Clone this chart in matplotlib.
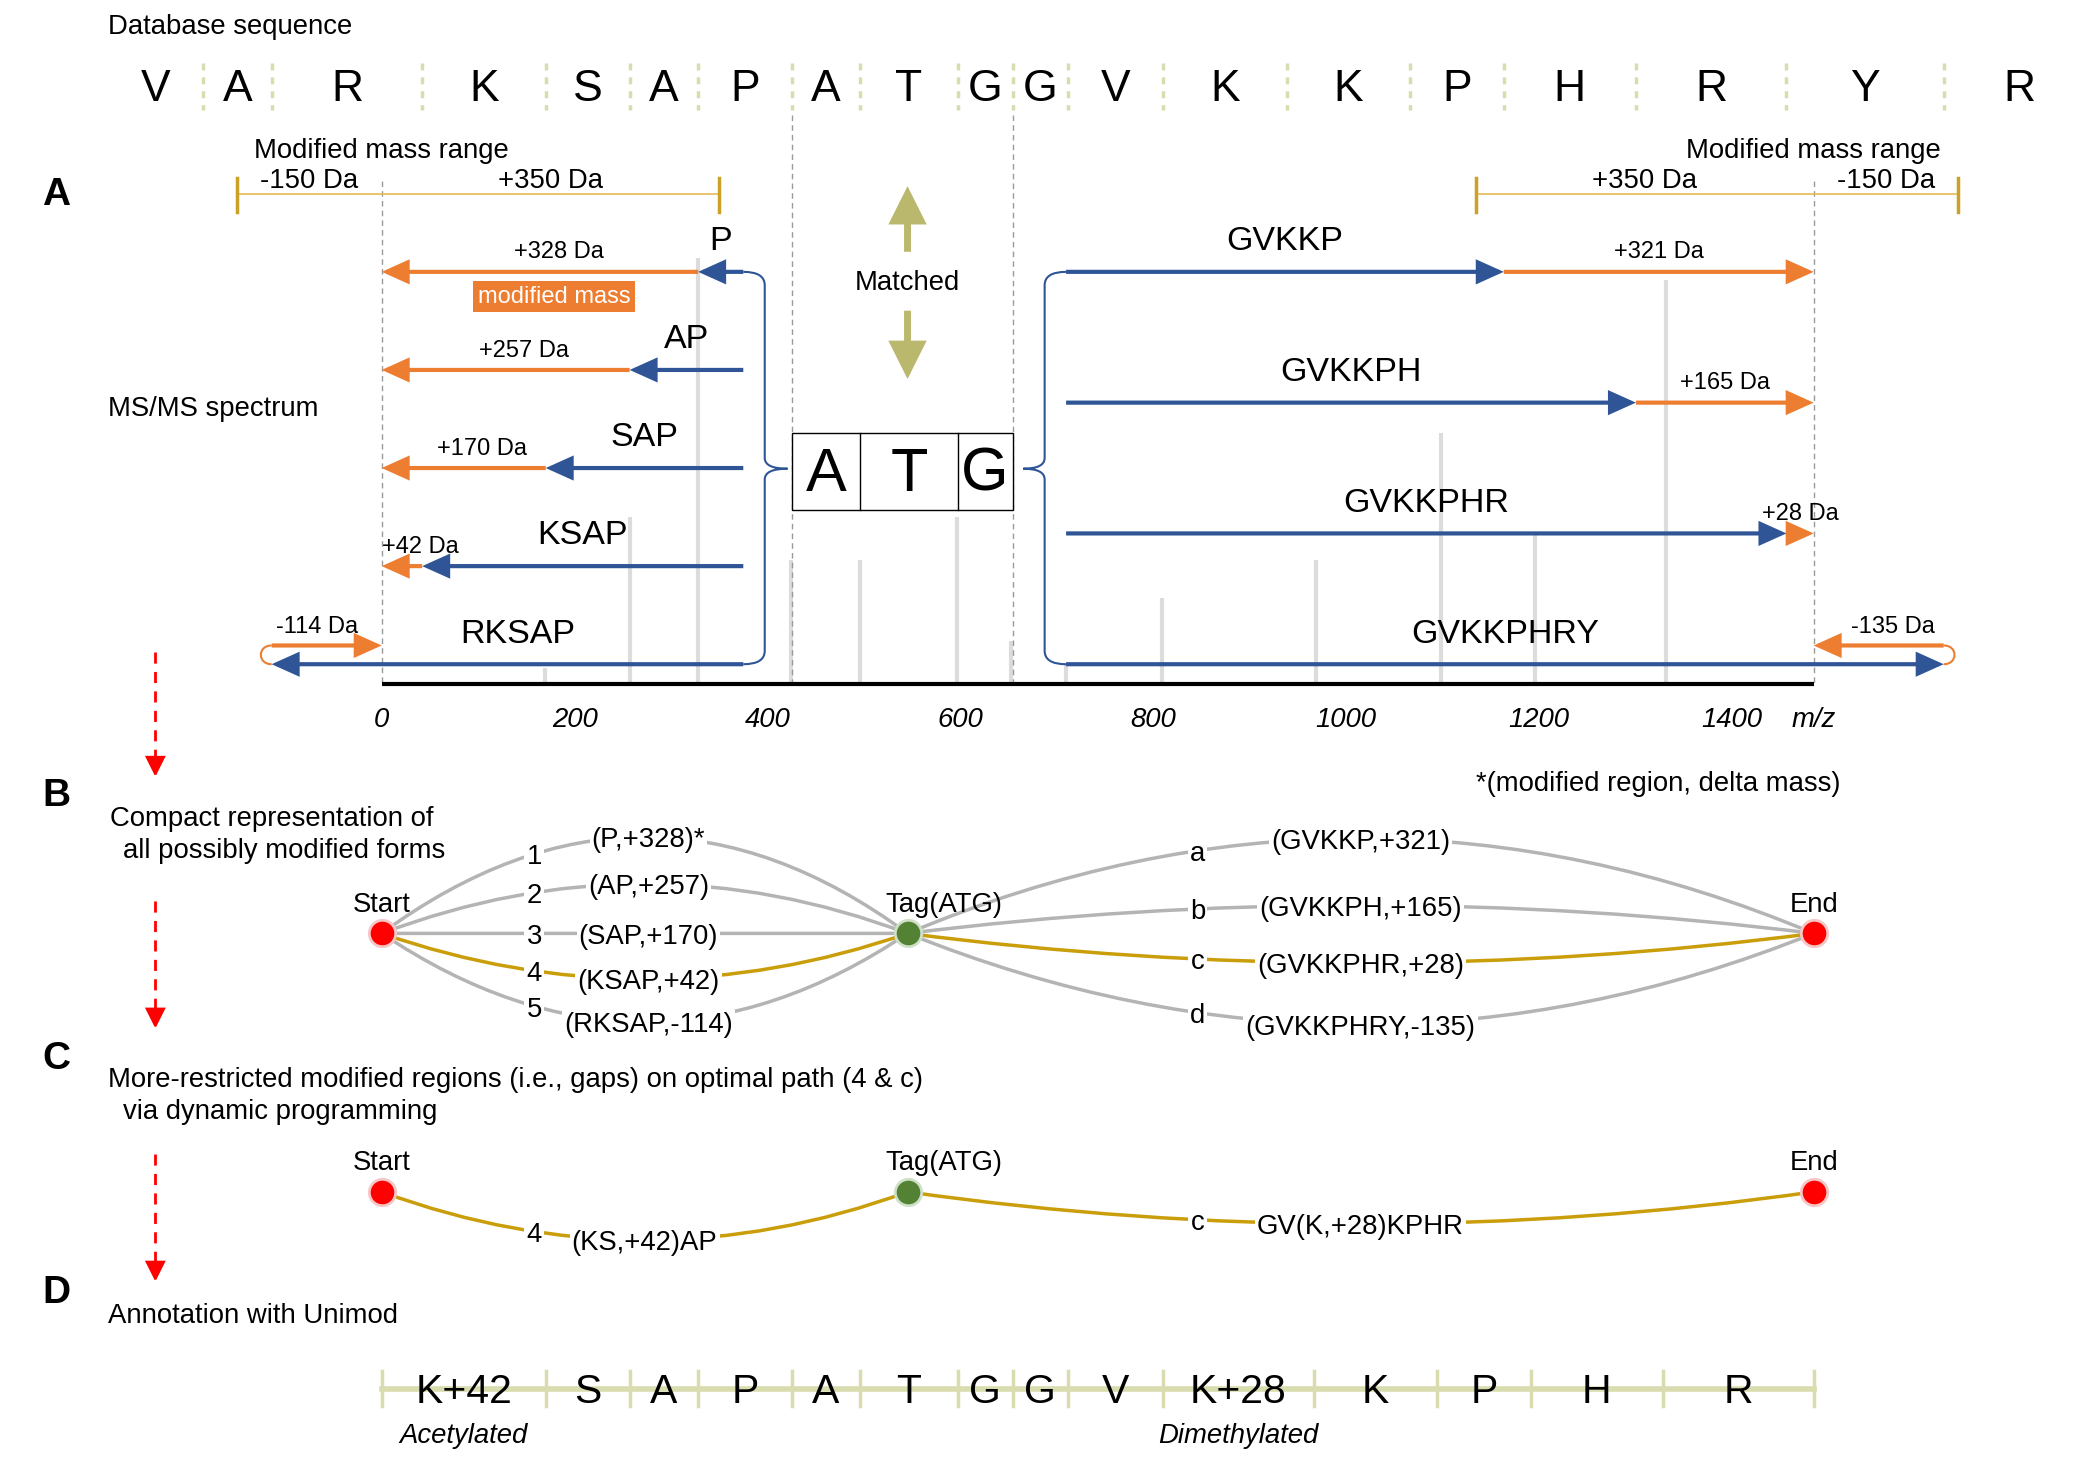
import numpy as np
import matplotlib
matplotlib.use("Agg")
import matplotlib.pyplot as plt
from matplotlib.path import Path
from matplotlib.patches import PathPatch, Rectangle

plt.rcParams['font.family'] = ['Liberation Sans', 'DejaVu Sans']

# ---------------- data ----------------
residue_mass = {'G': 57.02, 'A': 71.04, 'S': 87.03, 'P': 97.05, 'V': 99.07,
                'T': 101.05, 'K': 128.09, 'H': 137.06, 'R': 156.10, 'Y': 163.06}
db_sequence = list("VARKSAPATGGVKKPHRYR")
tag_seq = "ATG"
tag_index = 7            # position of the tag in the database sequence
tag_start_mz = 425.2     # m/z where the tag starts in the spectrum
precursor_mz = 1485.0
mz_ticks = [0, 200, 400, 600, 800, 1000, 1200, 1400]
mass_range = (-150, 350)

left_fragments = ["P", "AP", "SAP", "KSAP", "RKSAP"]
left_deltas = ["+328 Da", "+257 Da", "+170 Da", "+42 Da", "-114 Da"]
right_fragments = ["GVKKP", "GVKKPH", "GVKKPHR", "GVKKPHRY"]
right_deltas = ["+321 Da", "+165 Da", "+28 Da", "-135 Da"]

peak_mz = [169, 257, 328, 424, 496, 597, 653, 710, 809, 969, 1099, 1196, 1332]
peak_int = [3.5, 39, 100, 29, 29, 39, 10, 4.5, 20, 29, 59, 35, 95]

b_ids_left = ["1", "2", "3", "4", "5"]
b_labels_left = ["(P,+328)*", "(AP,+257)", "(SAP,+170)", "(KSAP,+42)", "(RKSAP,-114)"]
b_ids_right = ["a", "b", "c", "d"]
b_labels_right = ["(GVKKP,+321)", "(GVKKPH,+165)", "(GVKKPHR,+28)", "(GVKKPHRY,-135)"]
optimal_left = 3
optimal_right = 2
c_label_left = "(KS,+42)AP"
c_label_right = "GV(K,+28)KPHR"

annot_residues = ["K+42", "S", "A", "P", "A", "T", "G", "G", "V", "K+28", "K", "P", "H", "R"]
annot_masses = [170.10, 87.03, 71.04, 97.05, 71.04, 101.05, 57.02, 57.02, 99.07,
                156.12, 128.09, 97.05, 137.06, 156.10]
annot_names = {0: "Acetylated", 9: "Dimethylated"}

# ---------------- styles ----------------
BLUE = '#2F5597'
ORANGE = '#ED7D31'
GOLD = '#C99E0A'
GREY_EDGE = '#B4B4B4'
PEAK = '#DCDCDC'
OLIVE = '#BAB86C'
PALE = '#D9DCAE'
RANGE = '#C9A227'
FS = 19.8

K = 0.72      # px per Da on the layout (shrunk 1568 px wide frame)
X0 = 285.0


def X(px):
    return (px - X0) / K


def DX(px):
    return px / K


fig = plt.figure(figsize=(21, 14.57), dpi=100)

# spectrum axes (peaks behind everything)
base_y = 510.0
ax_s = fig.add_axes([0, 1 - base_y / 1088, 1, base_y / 1088])
ax_s.set_xlim(X(0), X(1568))
ax_s.set_ylim(0, 100 * base_y / 317)
ax_s.axis('off')
ax_s.vlines(peak_mz, 0, peak_int, color=PEAK, lw=3)

ax = fig.add_axes([0, 0, 1, 1])
ax.set_xlim(X(0), X(1568))
ax.set_ylim(1088, 0)
ax.axis('off')
ax.patch.set_alpha(0)


def txt(x, y, s, size=FS, dy=None, **kw):
    if dy is None:
        dy = 2.5 if size < 30 else 3.0
    ax.text(x, y + dy, s, fontsize=size, ha=kw.pop('ha', 'center'), va=kw.pop('va', 'center'), **kw)


def arrow(x0, y0, x1, y1, color, lw=3, ms=15, hl=1.0, hw=0.45, z=3):
    ax.annotate("", xy=(x1, y1), xytext=(x0, y0),
                arrowprops=dict(arrowstyle=f"-|>,head_length={hl},head_width={hw}",
                                color=color, lw=lw, shrinkA=0, shrinkB=0,
                                mutation_scale=ms, joinstyle='miter', capstyle='butt'),
                zorder=z)


# ---------------- database sequence ----------------
txt(X(81), 18, "Database sequence", ha='left')
masses = np.array([residue_mass[r] for r in db_sequence])
cum = np.concatenate([[0], np.cumsum(masses)])
cum = cum - cum[tag_index] + tag_start_mz
for i, r in enumerate(db_sequence):
    txt((cum[i] + cum[i + 1]) / 2, 64, r, size=32)
for b in cum[1:-1]:
    ax.plot([b, b], [47, 82], color=PALE, lw=2.5, ls=(0, (2, 2)))
tag_end_mz = cum[tag_index + len(tag_seq)]
tag_mid = (tag_start_mz + tag_end_mz) / 2

# ---------------- panel labels & side text ----------------
for lab, yy in zip("ABCD", [143, 592, 788, 963]):
    txt(X(42), yy, lab, size=28, fontweight='bold')
txt(X(81), 303, "MS/MS spectrum", ha='left')
txt(X(82), 609, "Compact representation of", ha='left')
txt(X(92), 633, "all possibly modified forms", ha='left')
txt(X(81), 804, "More-restricted modified regions (i.e., gaps) on optimal path (4 & c)", ha='left')
txt(X(92), 828, "via dynamic programming", ha='left')
txt(X(81), 980, "Annotation with Unimod", ha='left')
txt(X(1374), 583, "*(modified region, delta mass)", ha='right')

# red dashed flow arrows
for y0, y1 in [(487, 580), (673, 768), (862, 957)]:
    ax.plot([X(116), X(116)], [y0, y1 - 12], color='#FF0000', lw=2, ls=(0, (4, 3)))
    arrow(X(116), y1 - 13, X(116), y1, '#FF0000', lw=1.5, ms=14, hl=0.9, hw=0.45)

# ---------------- panel A ----------------
dash = dict(color='#9A9A9A', lw=1, ls=(0, (4, 3)))
ax.plot([0, 0], [135, base_y], **dash)
ax.plot([precursor_mz, precursor_mz], [135, base_y], **dash)
ax.plot([tag_start_mz, tag_start_mz], [86, base_y], **dash)
ax.plot([tag_end_mz, tag_end_mz], [86, base_y], **dash)

# modified mass range bars
for lo, hi, cx, labs in [(mass_range[0], mass_range[1], 0, ("-150 Da", "+350 Da")),
                         (precursor_mz - mass_range[1], precursor_mz - mass_range[0], precursor_mz,
                          ("+350 Da", "-150 Da"))]:
    ax.plot([lo, hi], [145, 145], color='#E6BA55', lw=1.2)
    ax.plot([lo, lo], [133, 158], color=RANGE, lw=2.5)
    ax.plot([hi, hi], [133, 158], color=RANGE, lw=2.5)
    txt(cx, 110, "Modified mass range")
    txt((lo + cx) / 2, 133, labs[0])
    txt((cx + hi) / 2, 133, labs[1])

# axis
ax.plot([0, precursor_mz], [base_y + 1, base_y + 1], color='black', lw=3, solid_capstyle='butt')
for t in mz_ticks:
    txt(t, 535, str(t), style='italic')
txt(precursor_mz, 535, "m/z", style='italic')

# matched arrows
m_x = tag_mid + DX(4)
arrow(m_x, 188, m_x, 139, OLIVE, lw=5, ms=15, hl=1.3, hw=0.65)
arrow(m_x, 232, m_x, 283, OLIVE, lw=5, ms=15, hl=1.3, hw=0.65)
txt(m_x, 209, "Matched")

# ATG box
ax.add_patch(Rectangle((tag_start_mz, 323), tag_end_mz - tag_start_mz, 58,
                       fc='white', ec='black', lw=1, zorder=4))
for i, r in enumerate(tag_seq):
    a, b = cum[tag_index + i], cum[tag_index + i + 1]
    if i > 0:
        ax.plot([a, a], [323, 381], color='black', lw=1, zorder=5)
    txt((a + b) / 2, 352, r, size=44, zorder=6)


# braces
def brace(xs, xe, xt, y0, y1, ym):
    verts = [(X(xs), y0), (X(xe), y0), (X(xe), y0 + 10),
             (X(xe), ym - 8), (X(xe), ym), (X(xt), ym),
             (X(xe), ym), (X(xe), ym + 8),
             (X(xe), y1 - 10), (X(xe), y1), (X(xs), y1)]
    codes = [Path.MOVETO, Path.CURVE3, Path.CURVE3,
             Path.LINETO, Path.CURVE3, Path.CURVE3,
             Path.CURVE3, Path.CURVE3,
             Path.LINETO, Path.CURVE3, Path.CURVE3]
    ax.add_patch(PathPatch(Path(verts, codes), fc='none', ec=BLUE, lw=1.5, zorder=3))


brace(555, 571, 588, 203, 496, 350)
brace(796, 780, 764, 203, 496, 350)

# left fragment arrows
rows_l = np.linspace(203, 496, len(left_fragments))
left_start = X(555)
for k, (frag, dl, y) in enumerate(zip(left_fragments, left_deltas, rows_l)):
    tip = cum[tag_index - len(frag)]
    if k < len(left_fragments) - 1:
        arrow(tip, y, 0, y, ORANGE)
        arrow(left_start, y, tip, y, BLUE, z=4)
        txt(tip / 2 + DX(14), y - 17, dl, size=17)
    else:
        arrow(left_start, y, tip, y, BLUE, z=4)
        arrow(tip, y - 14, 0, y - 14, ORANGE)
        loop = Path([(tip, y - 14), (tip - 15, y - 14), (tip - 15, y), (tip, y)],
                    [Path.MOVETO, Path.CURVE4, Path.CURVE4, Path.CURVE4])
        ax.add_patch(PathPatch(loop, fc='none', ec=ORANGE, lw=1.5))
        txt(tip / 2 - 10, y - 30, dl, size=17)
    txt((tip + left_start) / 2 + (DX(8) if k == 4 else 0), y - 25, frag, size=24.5)

# "modified mass" tag
txt(X(414), 219, "modified mass", size=17, color='white',
    bbox=dict(boxstyle='square,pad=0.2', fc=ORANGE, ec='none'))

# right fragment arrows
rows_r = np.linspace(203, 496, len(right_fragments))
right_start = X(796)
tag_end_idx = tag_index + len(tag_seq)
for k, (frag, dl, y) in enumerate(zip(right_fragments, right_deltas, rows_r)):
    tip = cum[tag_end_idx + len(frag)]
    if k < len(right_fragments) - 1:
        arrow(tip, y, precursor_mz, y, ORANGE)
        arrow(right_start, y, tip, y, BLUE, z=4)
        txt((tip + precursor_mz) / 2, y - 17, dl, size=17)
    else:
        arrow(right_start, y, tip, y, BLUE, z=4)
        arrow(tip, y - 14, precursor_mz, y - 14, ORANGE)
        loop = Path([(tip, y - 14), (tip + 15, y - 14), (tip + 15, y), (tip, y)],
                    [Path.MOVETO, Path.CURVE4, Path.CURVE4, Path.CURVE4])
        ax.add_patch(PathPatch(loop, fc='none', ec=ORANGE, lw=1.5))
        txt((tip + precursor_mz) / 2 + 15, y - 30, dl, size=17)
    txt((tip + right_start) / 2, y - 25, frag, size=24.5)

# ---------------- graphs (panels B, C) ----------------
start_x, tag_x, end_x = 0.0, tag_mid + DX(4), precursor_mz
wbox = dict(boxstyle='square,pad=0.08', fc='white', ec='none')


def qpt(p0, c, p2, t):
    p0, c, p2 = map(np.array, (p0, c, p2))
    return (1 - t) ** 2 * p0 + 2 * (1 - t) * t * c + t ** 2 * p2


def edge(x0, x1, y, cy, color, lw=2.5, z=2):
    c = ((x0 + x1) / 2, cy)
    ax.add_patch(PathPatch(Path([(x0, y), c, (x1, y)], [Path.MOVETO, Path.CURVE3, Path.CURVE3]),
                           fc='none', ec=color, lw=lw, zorder=z))
    return (x0, y), c, (x1, y)


def node(x, y, label, color, edge_c, lx=None):
    ax.plot([x], [y], 'o', ms=19, mfc=color, mec=edge_c, mew=2, zorder=8)
    txt(x if lx is None else lx, y - 24, label)


yB = 697
ctrl_left = [553, 623, 697, 765, 829]
for k, (ident, lab, cy) in enumerate(zip(b_ids_left, b_labels_left, ctrl_left)):
    col = GOLD if k == optimal_left else GREY_EDGE
    p0, c, p2 = edge(start_x, tag_x, yB, cy, col, z=3 if k == optimal_left else 2)
    q = qpt(p0, c, p2, 0.29)
    txt(q[0], q[1], ident, bbox=wbox, zorder=6)
    q = qpt(p0, c, p2, 0.5)
    txt(q[0] + 4, q[1], lab, bbox=wbox, zorder=6)

ctrl_right = [555, 655, 741, 833]
for k, (ident, lab, cy) in enumerate(zip(b_ids_right, b_labels_right, ctrl_right)):
    col = GOLD if k == optimal_right else GREY_EDGE
    p0, c, p2 = edge(tag_x, end_x, yB, cy, col, z=3 if k == optimal_right else 2)
    q = qpt(p0, c, p2, 0.32)
    txt(q[0], q[1], ident, bbox=wbox, zorder=6)
    q = qpt(p0, c, p2, 0.5)
    txt(q[0], q[1], lab, bbox=wbox, zorder=6)

node(start_x, yB, "Start", '#FF0000', '#F7C6C6')
node(tag_x, yB, "Tag(ATG)", '#548235', '#CFE0C8', lx=tag_x + DX(27))
node(end_x, yB, "End", '#FF0000', '#F7C6C6')

yC = 890
p0, c, p2 = edge(start_x, tag_x, yC, 962, GOLD)
q = qpt(p0, c, p2, 0.29)
txt(q[0], q[1], b_ids_left[optimal_left], bbox=wbox, zorder=6)
q = qpt(p0, c, p2, 0.5)
txt(q[0], q[1], c_label_left, bbox=wbox, zorder=6)
p0, c, p2 = edge(tag_x, end_x, yC, 938, GOLD)
q = qpt(p0, c, p2, 0.32)
txt(q[0], q[1], b_ids_right[optimal_right], bbox=wbox, zorder=6)
q = qpt(p0, c, p2, 0.5)
txt(q[0], q[1], c_label_right, bbox=wbox, zorder=6)
node(start_x, yC, "Start", '#FF0000', '#F7C6C6')
node(tag_x, yC, "Tag(ATG)", '#548235', '#CFE0C8', lx=tag_x + DX(27))
node(end_x, yC, "End", '#FF0000', '#F7C6C6')

# ---------------- panel D ----------------
yD = 1037
acum = np.concatenate([[0], np.cumsum(annot_masses)])
ax.plot([acum[0], acum[-1]], [yD, yD], color=PALE, lw=4, zorder=1)
for b in acum:
    ax.plot([b, b], [1024, 1050], color=PALE, lw=2.5, zorder=1)
for i, r in enumerate(annot_residues):
    cx = (acum[i] + acum[i + 1]) / 2
    txt(cx, yD, r, size=29.5, zorder=3)
    if i in annot_names:
        txt(cx, 1070, annot_names[i], style='italic')

fig.savefig("out.png", dpi=100)
